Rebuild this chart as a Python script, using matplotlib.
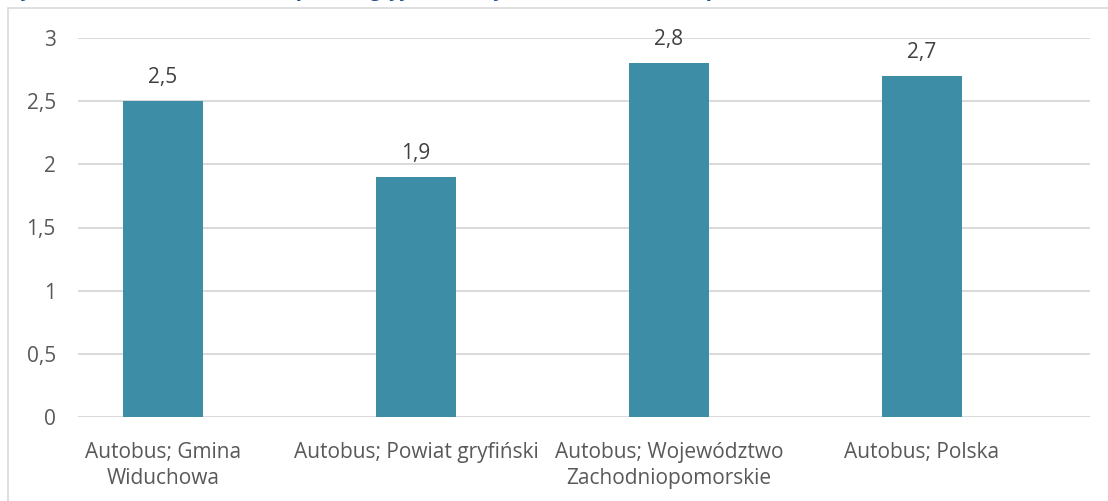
import matplotlib
matplotlib.use("Agg")
import matplotlib.pyplot as plt
from matplotlib.patches import Rectangle

categories = ["Autobus; Gmina\nWiduchowa", "Autobus; Powiat gryfiński",
              "Autobus; Województwo\nZachodniopomorskie", "Autobus; Polska"]
values = [2.5, 1.9, 2.8, 2.7]
yticks = [0, 0.5, 1, 1.5, 2, 2.5, 3]
ytick_labels = ["0", "0,5", "1", "1,5", "2", "2,5", "3"]
title = "Wykres 5. Gmina Widuchowa, powiat gryfiński, województwo zachodniopomorskie i Polska"

W, H = 1108, 501
plt.rcParams['font.family'] = ['Open Sans', 'DejaVu Sans']
fig = plt.figure(figsize=(W / 100, H / 100), dpi=100)

# outer border
fig.patches.append(Rectangle((8 / W, -0.1), 1.2, 1 - 8 / H + 0.1, transform=fig.transFigure,
                             fill=False, edgecolor="#D9D9D9", linewidth=1.2))
# cropped title (only descenders visible, as in the reference)
fig.text(4 / W, 1 + 3.8 / H, title, ha="left", va="baseline", fontsize=15,
         fontweight="bold", fontstyle="italic", color="#1F4E8C")

ax = fig.add_axes([78 / W, 1 - 417 / H, (1090 - 78) / W, (417 - 38) / H])
x = range(len(categories))
bars = ax.bar(x, values, width=0.316, color="#3C8DA5", zorder=3)
ax.set_xlim(-0.336, 3.664)
ax.set_ylim(0, 3)
ax.set_yticks(yticks)
ax.set_yticklabels(ytick_labels)
ax.set_xticks(list(x))
ax.set_xticklabels(categories, linespacing=1.33)
for s in ax.spines.values():
    s.set_visible(False)
ax.grid(axis="y", color="#D9D9D9", linewidth=1.4, zorder=0)
ax.tick_params(axis="both", length=0, labelsize=15, colors="#595959")
ax.tick_params(axis="y", pad=16)
ax.tick_params(axis="x", pad=18)
for b, v in zip(bars, values):
    ax.annotate(f"{v:.1f}".replace(".", ","), (b.get_x() + b.get_width() / 2, v),
                xytext=(0, 13), textcoords="offset points", ha="center", va="baseline",
                fontsize=15, color="#404040")

fig.savefig("out.png", dpi=100)
